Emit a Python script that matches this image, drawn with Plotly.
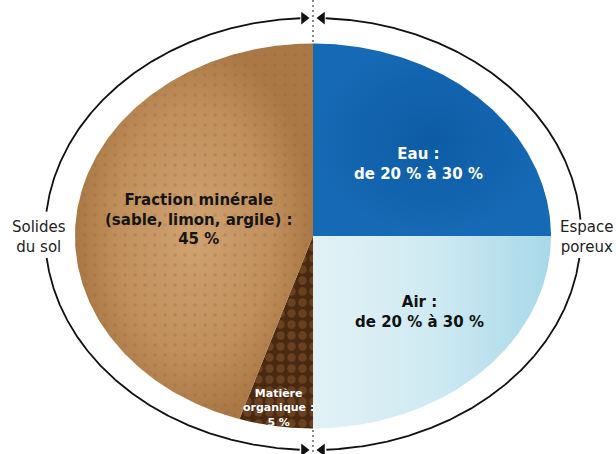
import numpy as np
import plotly.graph_objects as go

# ---------------- data ----------------
categories = ["Eau", "Air", "Matière organique", "Fraction minérale"]
values = [25, 25, 5, 45]  # % du volume du sol (Eau / Air : de 20 % à 30 %)
label_lines = [
    ["Eau :", "de 20 % à 30 %"],
    ["Air :", "de 20 % à 30 %"],
    ["Matière", "organique :", "5 %"],
    ["Fraction minérale", "(sable, limon, argile) :", "45 %"],
]
side_labels = [["Solides", "du sol"], ["Espace", "poreux"]]

# ---------------- styles / geometry ----------------
W, H = 616, 454
CX, CY, RX, RY = 313, 236, 238, 192.5          # pie ellipse
OCX, OCY, ORX, ORY = 313, 234, 268, 216        # outer ring ellipse

slice_styles = [
    dict(grad=dict(type="radial", colorscale=[[0, "#0d5ba5"], [1, "#1669b4"]]), pattern=None,
         text_color="white", pos=(418, 164), size=15),
    dict(grad=dict(type="horizontal", colorscale=[[0, "#e2f2f6"], [0.5, "#cfeaf2"], [1, "#a8d8e9"]]), pattern=None,
         text_color="#111111", pos=(419, 312), size=15),
    dict(grad=None, color="#4a2911",
         pattern=dict(shape=".", size=11, solidity=0.45, fgcolor="#875a31", bgcolor="rgba(0,0,0,0)"),
         text_color="white", pos=(278, 408), size=11),
    dict(grad=dict(type="radial", colorscale=[[0, "#d0a370"], [0.65, "#c08f5c"], [1, "#a97845"]]),
         pattern=dict(shape=".", size=10, solidity=0.1, fgcolor="rgba(150,95,55,0.55)", bgcolor="rgba(0,0,0,0)"),
         text_color="#151515", pos=(199, 219), size=15),
]
side_styles = [dict(pos=(38.5, 237)), dict(pos=(586, 237))]

fig = go.Figure()

# dotted vertical divider
fig.add_trace(go.Scatter(x=[CX, CX], y=[0, H], mode="lines",
                         line=dict(color="#8a8a8a", width=2, dash="2px,3px"),
                         hoverinfo="skip", showlegend=False))

# pie sectors (elliptical), clockwise from top
total = sum(values)
cum = np.cumsum([0] + values) / total * 2 * np.pi
for i, (cat, v) in enumerate(zip(categories, values)):
    st = slice_styles[i]
    th = np.linspace(cum[i], cum[i + 1], 200)
    xs = np.concatenate([[CX], CX + RX * np.sin(th), [CX]])
    ys = np.concatenate([[CY], CY - RY * np.cos(th), [CY]])
    kw = dict(x=xs, y=ys, mode="lines", fill="toself", line=dict(width=0),
              name=cat, hoverinfo="name", showlegend=False)
    if st.get("grad"):
        fig.add_trace(go.Scatter(**kw, fillgradient=st["grad"]))
    else:
        fig.add_trace(go.Scatter(**kw, fillcolor=st["color"]))
    if st.get("pattern"):
        fig.add_trace(go.Scatter(x=xs, y=ys, mode="lines", fill="toself", line=dict(width=0),
                                 fillcolor="rgba(0,0,0,0)", fillpattern=st["pattern"],
                                 hoverinfo="skip", showlegend=False))

# outer ring arcs with gaps
t = np.linspace(0, 2 * np.pi, 1200)
rx_ = OCX + ORX * np.sin(t)
ry_ = OCY - ORY * np.cos(t)
gap = (np.abs(rx_ - OCX) < 12) | \
      ((rx_ < OCX) & (ry_ > 212) & (ry_ < 257)) | \
      ((rx_ > OCX) & (ry_ > 220) & (ry_ < 258))
rx_ = np.where(gap, np.nan, rx_)
ry_ = np.where(gap, np.nan, ry_)
fig.add_trace(go.Scatter(x=rx_, y=ry_, mode="lines", line=dict(color="#111111", width=1.8),
                         connectgaps=False, hoverinfo="skip", showlegend=False))

# arrowheads
def ring_y(x, top=True):
    r = np.sqrt(max(0.0, 1 - ((x - OCX) / ORX) ** 2))
    return OCY - ORY * r if top else OCY + ORY * r

ax_l, ax_r = OCX - 9, OCX + 9
fig.add_trace(go.Scatter(
    x=[ax_l, ax_r, ax_l, ax_r],
    y=[ring_y(ax_l), ring_y(ax_r), ring_y(ax_l, False), ring_y(ax_r, False)],
    mode="markers",
    marker=dict(symbol=["triangle-right", "triangle-left", "triangle-right", "triangle-left"],
                size=11, color="#111111", line=dict(width=0)),
    hoverinfo="skip", showlegend=False))

# labels
for i, lines in enumerate(label_lines):
    st = slice_styles[i]
    x0, y0 = st["pos"]
    fig.add_annotation(x=x0, y=y0, text="<br>".join(lines), showarrow=False,
                       xanchor="center", yanchor="middle", align="center",
                       font=dict(family="DejaVu Sans", size=st["size"], color=st["text_color"],
                                 weight="bold"))
for lines, st in zip(side_labels, side_styles):
    x0, y0 = st["pos"]
    fig.add_annotation(x=x0, y=y0, text="<br>".join(lines), showarrow=False,
                       xanchor="center", yanchor="middle", align="center",
                       font=dict(family="DejaVu Sans", size=15, color="#222222"))

fig.update_layout(
    width=W, height=H, margin=dict(l=0, r=0, t=0, b=0),
    paper_bgcolor="white", plot_bgcolor="white",
    xaxis=dict(range=[0, W], visible=False, fixedrange=True),
    yaxis=dict(range=[H, 0], visible=False, fixedrange=True),
    showlegend=False,
)
fig.write_html("out.html")
